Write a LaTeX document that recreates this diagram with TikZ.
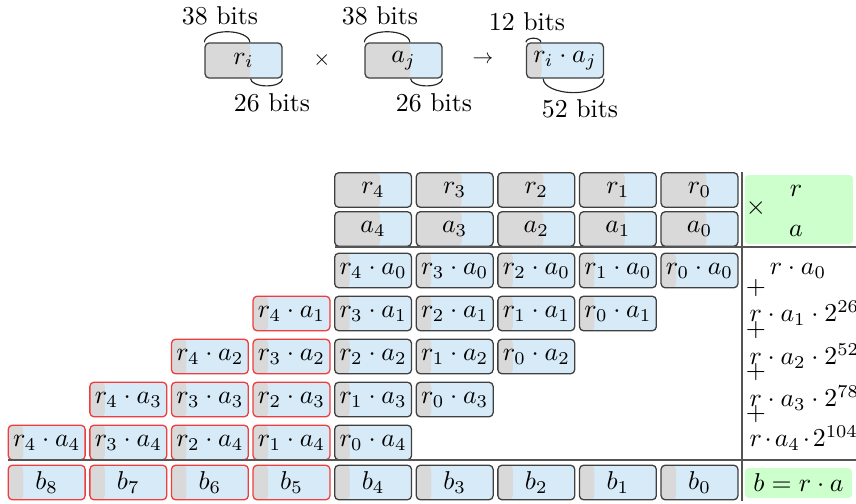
\documentclass[tikz,border=0pt]{standalone}
\usetikzlibrary{calc}
\definecolor{cgray}{RGB}{217,217,217}
\definecolor{cblue}{RGB}{214,234,248}
\definecolor{cgreen}{RGB}{204,255,204}
\definecolor{cline}{RGB}{85,85,85}
\definecolor{cred}{RGB}{240,60,60}
\tikzset{
  cellbase/.style={rectangle, rounded corners=1.6pt, draw=black!75, line width=0.5pt,
    minimum width=29.8pt, minimum height=13.4pt, inner sep=0pt,
    path picture={
      \fill[cblue] (path picture bounding box.south west) rectangle (path picture bounding box.north east);
      \fill[cgray] (path picture bounding box.south west) rectangle ([xshift=#1]path picture bounding box.north west);
    }},
  halfcell/.style={cellbase=17.6pt},
  prodcell/.style={cellbase=5.8pt},
  greenbox/.style={rectangle, rounded corners=1.4pt, fill=cgreen, inner sep=0pt},
  sepline/.style={draw=cline, line width=0.6pt},
  arcline/.style={draw=black!85, line width=0.45pt},
  lbl/.style={inner sep=0pt}
}
\begin{document}
\begin{tikzpicture}[x=0.3876pt,y=-0.3876pt]
\useasboundingbox (0,0) rectangle (856,504);

% ---- top explanation ----
\node[halfcell, minimum width=29.8pt, minimum height=13.6pt] (ri) at (243.5,60.5) {$r_i$};
\node[halfcell, minimum width=29.8pt, minimum height=13.6pt] (aj) at (403.5,60.5) {$a_j$};
\node[prodcell, minimum width=29.8pt, minimum height=13.6pt] (rij) at (565,60.5) {$r_i\cdot a_j$};
\draw[arcline] (ri.north west) arc[start angle=180,end angle=0,x radius=8.8pt,y radius=4.1pt];
\draw[arcline] (ri.south east) arc[start angle=0,end angle=-180,x radius=6.2pt,y radius=2.8pt];
\draw[arcline] (aj.north west) arc[start angle=180,end angle=0,x radius=8.8pt,y radius=4.1pt];
\draw[arcline] (aj.south east) arc[start angle=0,end angle=-180,x radius=6.2pt,y radius=2.8pt];
\draw[arcline] (rij.north west) arc[start angle=180,end angle=0,x radius=2.9pt,y radius=1.6pt];
\draw[arcline] (rij.south east) arc[start angle=0,end angle=-180,x radius=11.8pt,y radius=5.4pt];
\node[lbl] (l1) at (220,16) {38 bits};
\node[lbl] (l2) at (272,103) {26 bits};
\node[lbl, scale=0.85] (op1) at (322,60) {$\times$};
\node[lbl] (l3) at (380,16) {38 bits};
\node[lbl] (l4) at (434,103) {26 bits};
\node[lbl, scale=0.8] (op2) at (483,60) {$\to$};
\node[lbl] (l5) at (527,22) {12 bits};
\node[lbl] (l6) at (580,109) {52 bits};

% ---- operands ----
\foreach \i in {0,...,4} {
  \node[halfcell] (r\i) at ({699.5-81.6*\i},190) {$r_{\i}$};
  \node[halfcell] (a\i) at ({699.5-81.6*\i},229) {$a_{\i}$};
}
% ---- partial products ----
\foreach \j in {0,...,4} {
  \foreach \i in {0,...,4} {
    \pgfmathtruncatemacro\c{\i+\j}
    \ifnum\c>4 \def\bd{cred}\else\def\bd{black!75}\fi
    \node[prodcell, draw=\bd] (p\i\j) at ({699.5-81.6*\c},{270.5+43*\j}) {$r_{\i}\cdot a_{\j}$};
  }
}
% ---- result ----
\foreach \k in {0,...,8} {
  \ifnum\k>4 \def\bd{cred}\else\def\bd{black!75}\fi
  \node[prodcell, draw=\bd] (b\k) at ({699.5-81.6*\k},482.5) {$b_{\k}$};
}

% ---- separators ----
\coordinate (v1) at (742,172);
\coordinate (v2) at (742,501);
\coordinate (h1a) at (335,247);
\coordinate (h1b) at (856,247);
\coordinate (h2a) at (8,460);
\coordinate (h2b) at (856,460);
\draw[sepline] (v1) -- (v2);
\draw[sepline] (h1a) -- (h1b);
\draw[sepline] (h2a) -- (h2b);

% ---- right column ----
\node[greenbox, minimum width=41.9pt, minimum height=26.7pt] (gtop) at (799,209.5) {};
\node[lbl] (times) at (756,208) {$\times$};
\node[lbl] (gr) at (796,191) {$r$};
\node[lbl] (ga) at (796,231) {$a$};
\node[greenbox, minimum width=41.5pt, minimum height=11.6pt] (gbot) at (798.5,483) {$b = r\cdot a$};

\node[lbl] (s0) at (798,271) {$r\cdot a_0$};
\node[lbl] (pl1) at (756,288) {$+$};
\node[lbl, anchor=west] (s1) at (749,313) {$r\cdot a_1\cdot 2^{26}$};
\node[lbl] (pl2) at (756,330) {$+$};
\node[lbl, anchor=west] (s2) at (749,356) {$r\cdot a_2\cdot 2^{52}$};
\node[lbl] (pl3) at (756,372) {$+$};
\node[lbl, anchor=west] (s3) at (749,398) {$r\cdot a_3\cdot 2^{78}$};
\node[lbl] (pl4) at (756,414) {$+$};
\node[lbl, anchor=west] (s4) at (749,438) {$r\mskip2mu{\cdot}\mskip2mu a_4\mskip2mu{\cdot}\mskip2mu 2^{104}$};
\end{tikzpicture}
\end{document}
